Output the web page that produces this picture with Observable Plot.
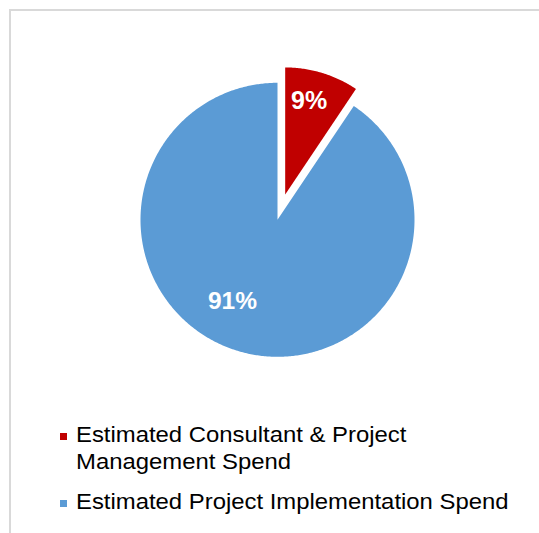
<!DOCTYPE html>
<html><head><meta charset="utf-8">
<script src="https://cdn.jsdelivr.net/npm/d3@7"></script>
<script src="https://cdn.jsdelivr.net/npm/@observablehq/plot@0.6"></script>
<style>
html,body{margin:0;padding:0;background:#fff;}
body{width:539px;height:533px;overflow:hidden;position:relative;font-family:"Liberation Sans",Arial,sans-serif;}
#frame{position:absolute;left:9px;top:9px;width:600px;height:600px;border:2px solid #d9d9d9;box-sizing:border-box;}
#chart{position:absolute;left:0;top:0;}
.item{position:absolute;left:76px;font-size:22px;line-height:26.5px;color:#000;}
.txt{display:block;width:420px;transform:scaleX(1.085);transform-origin:0 0;}
.mk{position:absolute;left:-16px;top:11px;width:7px;height:7px;}
</style></head>
<body>
<div id="frame"></div>
<div id="chart"></div>
<div id="legend"></div>
<script>
const categories = ["Estimated Consultant & Project Management Spend", "Estimated Project Implementation Spend"];
const shares = [9.4, 90.6];
const labels = ["9%", "91%"];
const colors = ["#C00000", "#5B9BD5"];

// styling / layout constants
const W = 539, H = 410;
const cx = 277, cy = 219.3;           // pie centre in px
const radii = [127, 137];             // drawn radius of each slice
const explode = [26.5, 0];            // offset of each slice along its bisector
const labelR = [96, 93];
const labelDx = [-4, -18], labelDy = [-1.5, -8];
const labelSize = [25, 24.5];

const arcs = d3.pie().sort(null).value(d => d)(shares);
const poly = [];
const labelPts = [];
arcs.forEach((a, i) => {
  const mid = (a.startAngle + a.endAngle) / 2;
  const ox = explode[i] * Math.sin(mid), oy = explode[i] * Math.cos(mid);
  poly.push({cat: categories[i], x: ox, y: oy});
  const n = Math.max(8, Math.ceil((a.endAngle - a.startAngle) / 0.01));
  for (let k = 0; k <= n; k++) {
    const t = a.startAngle + (a.endAngle - a.startAngle) * k / n;
    poly.push({cat: categories[i], x: ox + radii[i] * Math.sin(t), y: oy + radii[i] * Math.cos(t)});
  }
  labelPts.push({i, label: labels[i], x: ox + labelR[i] * Math.sin(mid), y: oy + labelR[i] * Math.cos(mid)});
});

const chart = Plot.plot({
  width: W, height: H,
  marginTop: 0, marginRight: 0, marginBottom: 0, marginLeft: 0,
  x: {domain: [-cx, W - cx], axis: null},
  y: {domain: [-(H - cy), cy], axis: null},
  color: {domain: categories, range: colors},
  style: {background: "transparent", fontFamily: "Liberation Sans, Arial, sans-serif"},
  marks: [
    Plot.line(poly, {x: "x", y: "y", z: "cat", fill: "cat", stroke: "none", curve: "linear-closed"}),
    ...labelPts.map(p => Plot.text([p], {x: "x", y: "y", text: "label", fill: "white", fontSize: labelSize[p.i], fontWeight: "bold", dx: labelDx[p.i], dy: labelDy[p.i]}))
  ]
});
document.getElementById("chart").appendChild(chart);

const tops = [422.4, 489.1];
const leg = d3.select("#legend");
categories.forEach((c, i) => {
  const it = leg.append("div").attr("class", "item").style("top", tops[i] + "px");
  it.append("span").attr("class", "mk").style("background", colors[i]);
  it.append("span").attr("class", "txt").text(c);
});
</script>
</body></html>
